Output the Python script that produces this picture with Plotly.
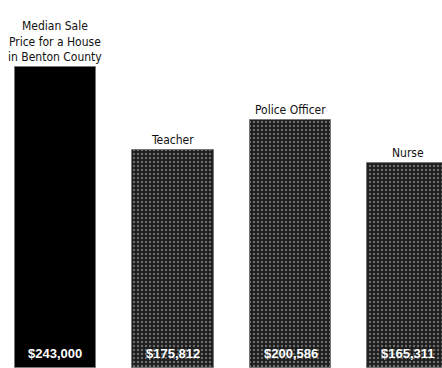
import plotly.graph_objects as go

# Categories and values
categories = ["Median Sale<br>Price for a House<br>in Benton County", "Teacher", "Police Officer", "Nurse"]
values = [243000, 175812, 200586, 165311]
value_labels = ["$243,000", "$175,812", "$200,586", "$165,311"]

x_pos = list(range(len(values)))

fig = go.Figure()

# Solid black bar for the house price, speckled bars for the salaries
fig.add_trace(go.Bar(
    x=x_pos[:1], y=values[:1], width=0.69,
    marker=dict(color="#000000", line=dict(color="#777777", width=1)),
    hoverinfo="skip",
))
fig.add_trace(go.Bar(
    x=x_pos[1:], y=values[1:], width=0.69,
    marker=dict(
        color="#1c1c1c",
        line=dict(color="#777777", width=1),
        pattern=dict(shape=".", bgcolor="#1c1c1c", fgcolor="#b8b8b8",
                     size=4, solidity=0.3, fillmode="overlay"),
    ),
    hoverinfo="skip",
))

annotations = []
for xi, cat, val, lab in zip(x_pos, categories, values, value_labels):
    annotations.append(dict(
        x=xi, y=val, xref="x", yref="y", text=cat, showarrow=False,
        yanchor="bottom", yshift=1,
        font=dict(family="DejaVu Sans Condensed, Liberation Sans Narrow, sans-serif", size=12, color="#111111"),
    ))
    annotations.append(dict(
        x=xi, y=0, xref="x", yref="y", text=lab, showarrow=False,
        yanchor="bottom", yshift=5,
        font=dict(family="Liberation Sans, Arial, sans-serif", size=13, color="#ffffff", weight="bold"),
    ))

fig.update_layout(
    width=442, height=368,
    margin=dict(l=0, r=0, t=0, b=0),
    paper_bgcolor="#ffffff", plot_bgcolor="#ffffff",
    showlegend=False,
    bargap=0,
    xaxis=dict(range=[-0.472, 3.289], visible=False, fixedrange=True),
    yaxis=dict(range=[0, 297090], visible=False, fixedrange=True),
    annotations=annotations,
)

fig.write_html("out.html")
